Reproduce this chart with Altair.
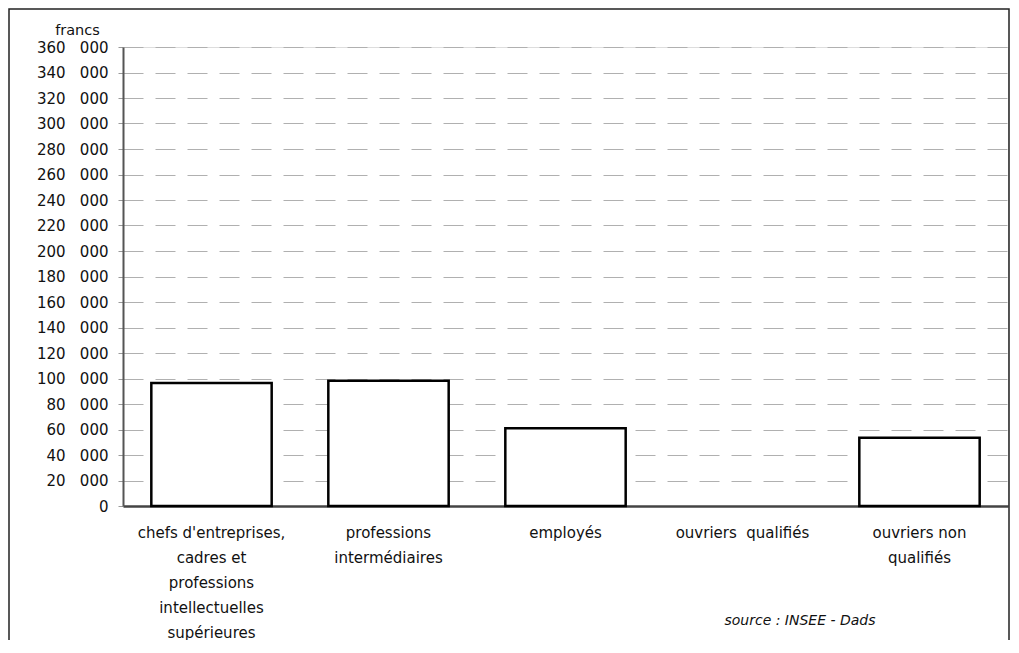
import altair as alt
import pandas as pd

categories = [
    "chefs d'entreprises,|cadres et|professions|intellectuelles|supérieures",
    "professions|intermédiaires",
    "employés",
    "ouvriers\u00a0\u00a0qualifiés",
    "ouvriers non|qualifiés",
]
values = [96500, 98200, 61000, None, 53500]
y_ticks = list(range(0, 360001, 20000))
source_note = "source : INSEE - Dads"
y_title = "francs"

df = pd.DataFrame({"cat": categories, "val": values})

FONT = "DejaVu Sans"
W, H = 885, 459

bars = alt.Chart(df).mark_bar(
    fill="white", stroke="black", strokeWidth=2.5
).encode(
    x=alt.X(
        "cat:N",
        sort=categories,
        scale=alt.Scale(domain=categories, paddingInner=0.32, paddingOuter=0.16),
        axis=alt.Axis(
            title=None,
            labelAngle=0,
            labelExpr="split(datum.label, '|')",
            labelLineHeight=25,
            labelPadding=19,
            labelFontSize=15,
            labelFont=FONT,
            labelColor="#111",
            ticks=False,
            domainColor="#444",
            domainWidth=2.5,
            labelLimit=300,
        ),
    ),
    y=alt.Y(
        "val:Q",
        scale=alt.Scale(domain=[0, 360000], nice=False),
        axis=alt.Axis(
            title=y_title,
            titleAngle=0,
            titleX=-46,
            titleY=-17,
            titleAlign="center",
            titleBaseline="middle",
            titleFont=FONT,
            titleFontSize=14.5,
            titleFontWeight="normal",
            titleColor="#111",
            values=y_ticks,
            labelExpr="replace(format(datum.value, ','), ',', '\u00a0\u00a0\u00a0')",
            labelFont=FONT,
            labelFontSize=15,
            labelColor="#111",
            labelPadding=10,
            tickSize=5,
            tickColor="#999",
            domainColor="#555",
            domainWidth=2,
            grid=True,
            gridColor="#b0b0b0",
            gridDash=[20, 12],
            gridWidth=1,
        ),
    ),
)

note = alt.Chart(pd.DataFrame({"t": [source_note]})).mark_text(
    font=FONT, fontSize=14, fontStyle="italic", color="#111", align="center", baseline="middle"
).encode(
    text="t:N",
    x=alt.value(677),
    y=alt.value(574),
)

frame = alt.Chart(pd.DataFrame({"k": [1]})).mark_rect(
    fill=None, stroke="#222", strokeWidth=1.5
).encode(
    x=alt.value(-114),
    x2=alt.value(886),
    y=alt.value(-38),
    y2=alt.value(640),
)

chart = alt.layer(frame, bars, note).properties(
    width=W,
    height=H,
    autosize="none",
    padding={"left": 115, "top": 39, "right": 3, "bottom": 134},
).configure_view(
    stroke="#444", strokeWidth=2
).configure(background="white")

chart.save("out.html", embed_options={"renderer": "svg", "actions": False})
